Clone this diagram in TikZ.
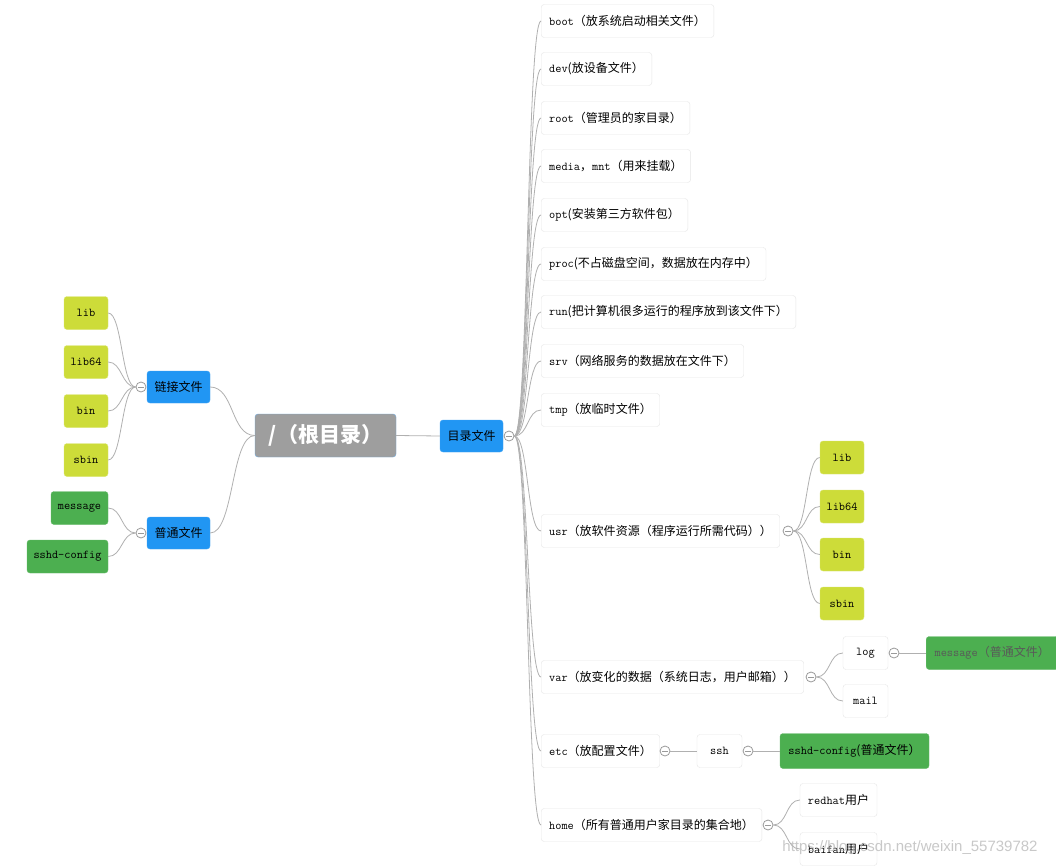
\documentclass[tikz,border=0pt]{standalone}
\usepackage{fontspec}
\setmainfont{Noto Sans CJK SC}
\newfontfamily\wmfont{Liberation Sans}
\newcommand\tm[1]{{\ttfamily\fontsize{12}{14}\selectfont #1}}
\definecolor{lnk}{HTML}{B0B0B0}
\definecolor{boxline}{HTML}{E6E6E6}
\definecolor{limefill}{HTML}{CDDC39}
\definecolor{limeline}{HTML}{DCE775}
\definecolor{greenfill}{HTML}{4CAF50}
\definecolor{greenline}{HTML}{66BB6A}
\definecolor{bluefill}{HTML}{2196F3}
\definecolor{blueline}{HTML}{42A5F5}
\definecolor{rootfill}{HTML}{9E9E9E}
\definecolor{rootline}{HTML}{6FA8DC}
\definecolor{collgray}{HTML}{9A9A9A}
\begin{document}
\begin{tikzpicture}[x=1pt,y=-1pt,
  font=\fontsize{12}{14}\selectfont,
  wbox/.style={draw=boxline, fill=white, rounded corners=3pt, minimum height=33pt, inner xsep=8pt, inner ysep=0pt},
  wleft/.style={wbox, anchor=west},
  limebox/.style={draw=limeline, fill=limefill, rounded corners=3pt, minimum width=44pt, minimum height=33pt, inner sep=0pt},
  greenbox/.style={draw=greenline, fill=greenfill, rounded corners=3pt, minimum height=33pt, inner xsep=8pt, inner ysep=0pt},
  bluebox/.style={draw=blueline, fill=bluefill, rounded corners=3pt, minimum width=63pt, minimum height=32pt, inner sep=0pt},
  rootbox/.style={draw=rootline, fill=rootfill, rounded corners=3pt, minimum width=141pt, minimum height=43pt, inner sep=0pt, text=white, font=\fontsize{21}{24}\selectfont\bfseries},
  coll/.style={circle, draw=collgray, fill=white, line width=0.8pt, minimum size=10pt, inner sep=0pt,
    path picture={\draw[collgray, line width=0.8pt] ([xshift=-3pt]path picture bounding box.center) -- ([xshift=3pt]path picture bounding box.center);}},
  link/.style={draw=lnk, line width=0.8pt}
]
\useasboundingbox[fill=white] (0,0) rectangle (1056,866);

% root and first level
\node[rootbox] (root) at (325.5,435.5) {/（根目录）};
\node[bluebox] (dir) at (471.5,436) {目录文件};
\node[bluebox] (lnkf) at (178.5,387) {链接文件};
\node[bluebox] (regf) at (178.5,533) {普通文件};

% left leaves
\node[limebox] (llib) at (86,313) {\tm{lib}};
\node[limebox] (llib64) at (86,362) {\tm{lib64}};
\node[limebox] (lbin) at (86,411) {\tm{bin}};
\node[limebox] (lsbin) at (86,460) {\tm{sbin}};
\node[greenbox, minimum width=57pt, inner xsep=0pt] (lmsg) at (79.5,508) {\tm{message}};
\node[greenbox, minimum width=81pt, inner xsep=0pt] (lsshd) at (67.5,556.5) {\tm{sshd-config}};

% right column
\node[wleft] (bootn) at (541,21) {\tm{boot}（放系统启动相关文件）};
\node[wleft] (devn) at (541,69) {\tm{dev}(放设备文件）};
\node[wleft] (rootn) at (541,118) {\tm{root}（管理员的家目录）};
\node[wleft] (median) at (541,166) {\tm{media}，\tm{mnt}（用来挂载）};
\node[wleft] (optn) at (541,215) {\tm{opt}(安装第三方软件包）};
\node[wleft] (procn) at (541,264) {\tm{proc}(不占磁盘空间，数据放在内存中）};
\node[wleft] (runn) at (541,312) {\tm{run}(把计算机很多运行的程序放到该文件下）};
\node[wleft] (srvn) at (541,361) {\tm{srv}（网络服务的数据放在文件下）};
\node[wleft] (tmpn) at (541,410) {\tm{tmp}（放临时文件）};
\node[wleft] (usrn) at (541,531) {\tm{usr}（放软件资源（程序运行所需代码））};
\node[wleft] (varn) at (541,677) {\tm{var}（放变化的数据（系统日志，用户邮箱））};
\node[wleft] (etcn) at (541,751) {\tm{etc}（放配置文件）};
\node[wleft] (homen) at (541,825) {\tm{home}（所有普通用户家目录的集合地）};

% usr children
\node[limebox] (ulib) at (842,457.5) {\tm{lib}};
\node[limebox] (ulib64) at (842,506.5) {\tm{lib64}};
\node[limebox] (ubin) at (842,554.5) {\tm{bin}};
\node[limebox] (usbin) at (842,603.5) {\tm{sbin}};

% var children
\node[wbox, minimum width=45pt, inner xsep=0pt] (logn) at (865.5,653) {\tm{log}};
\node[wbox, minimum width=45pt, inner xsep=0pt] (mailn) at (865.5,701) {\tm{mail}};
\node[greenbox, text=black!65, anchor=west, minimum width=132pt] (vmsg) at (926,653) {\tm{message}（普通文件）};

% etc children
\node[wbox, minimum width=45pt, inner xsep=0pt] (sshn) at (719.5,751) {\tm{ssh}};
\node[greenbox, minimum width=149pt, minimum height=35pt, inner xsep=0pt] (esshd) at (854.5,751) {\tm{sshd-config}(普通文件）};

% home children
\node[wbox, minimum width=77pt, inner xsep=0pt] (redn) at (838.5,800) {\tm{redhat}用户};
\node[wbox, minimum width=77pt, inner xsep=0pt] (baifn) at (838.5,849) {\tm{baifan}用户};

% collapse circles
\node[coll] (c0) at (509,436) {};
\node[coll] (c1) at (141,387) {};
\node[coll] (c2) at (141,533) {};
\node[coll] (cu) at (788,531) {};
\node[coll] (cv) at (811,677) {};
\node[coll] (cl) at (894,653) {};
\node[coll] (ce) at (665,751) {};
\node[coll] (cs) at (748,751) {};
\node[coll] (ch) at (768,825) {};

% connectors
\begin{scope}[on background layer/.style={}]
\draw[link] (root.east) -- (dir.west);
\draw[link] (root.west) .. controls +(-24,0) and +(24,0) .. (lnkf.east);
\draw[link] (root.west) .. controls +(-24,0) and +(24,0) .. (regf.east);
\foreach \n in {llib,llib64,lbin,lsbin} \draw[link] (c1.west) .. controls +(-14,0) and +(14,0) .. (\n.east);
\foreach \n in {lmsg,lsshd} \draw[link] (c2.west) .. controls +(-14,0) and +(14,0) .. (\n.east);
\foreach \n in {bootn,devn,rootn,median,optn,procn,runn,srvn,tmpn,usrn,varn,etcn,homen}
  \draw[link] (c0.east) .. controls +(14,0) and +(-14,0) .. (\n.west);
\foreach \n in {ulib,ulib64,ubin,usbin} \draw[link] (cu.east) .. controls +(14,0) and +(-14,0) .. (\n.west);
\foreach \n in {logn,mailn} \draw[link] (cv.east) .. controls +(14,0) and +(-14,0) .. (\n.west);
\draw[link] (cl.east) -- (vmsg.west);
\draw[link] (ce.east) -- (sshn.west);
\draw[link] (cs.east) -- (esshd.west);
\foreach \n in {redn,baifn} \draw[link] (ch.east) .. controls +(14,0) and +(-14,0) .. (\n.west);
\end{scope}

% watermark
\node[font=\wmfont\fontsize{15}{17}\selectfont, text=black!30, opacity=0.7] (wm) at (910,848) {https://blog.csdn.net/weixin\_55739782};
\end{tikzpicture}
\end{document}
